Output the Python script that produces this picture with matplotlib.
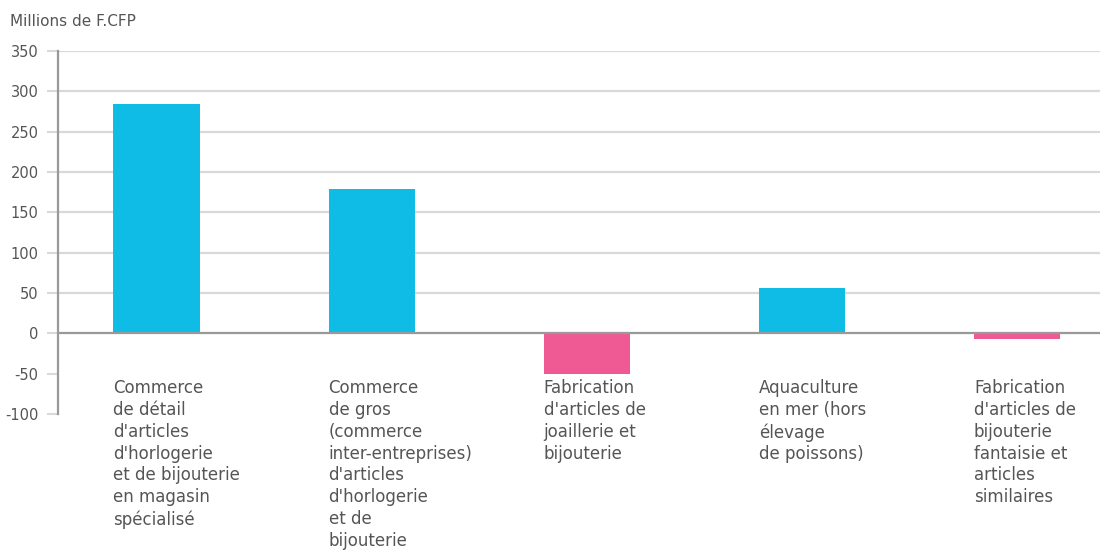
import matplotlib
matplotlib.use("Agg")
import matplotlib.pyplot as plt

categories = [
    "Commerce\nde détail\nd'articles\nd'horlogerie\net de bijouterie\nen magasin\nspécialisé",
    "Commerce\nde gros\n(commerce\ninter-entreprises)\nd'articles\nd'horlogerie\net de\nbijouterie",
    "Fabrication\nd'articles de\njoaillerie et\nbijouterie",
    "Aquaculture\nen mer (hors\nélevage\nde poissons)",
    "Fabrication\nd'articles de\nbijouterie\nfantaisie et\narticles\nsimilaires",
]
values = [284, 179, -50, 56, -7]
yticks = [-100, -50, 0, 50, 100, 150, 200, 250, 300, 350]
unit_label = "Millions de F.CFP"

BLUE = "#0fbce6"
PINK = "#f05a94"
TEXT = "#555555"

plt.rcParams['font.family'] = ['DejaVu Sans']
fig = plt.figure(figsize=(11.14, 5.57), dpi=100)
W, H = 1114, 557
ax = fig.add_axes([58 / W, 1 - 414 / H, (1100 - 58) / W, (414 - 51) / H])

x = list(range(len(values)))
colors = [BLUE if v >= 0 else PINK for v in values]
ax.bar(x, values, width=0.4, color=colors, zorder=2)

ax.set_ylim(-100, 350)
ax.set_xlim(-0.458, 4.386)
ax.set_yticks(yticks)
ax.set_yticklabels([str(t) for t in yticks], fontsize=10.5, color=TEXT)
ax.tick_params(axis='y', length=8, width=1.5, color="#d9d9d9", pad=6)
ax.set_xticks([])
for t in yticks:
    if t > 0:
        ax.axhline(t, color="#d9d9d9", lw=1.6, zorder=1)
ax.axhline(0, color="#999999", lw=1.6, zorder=3)

for s in ["top", "right", "bottom"]:
    ax.spines[s].set_visible(False)
ax.spines["left"].set_color("#999999")
ax.spines["left"].set_linewidth(1.6)

for xi, lab in zip(x, categories):
    ax.text(xi - 0.2, -57, lab, ha="left", va="top", fontsize=12,
            color=TEXT, linespacing=1.27, clip_on=False)

fig.text(10 / W, 1 - 21 / H, unit_label, fontsize=11, color=TEXT, va="center", ha="left")

fig.savefig("out.png", dpi=100)
